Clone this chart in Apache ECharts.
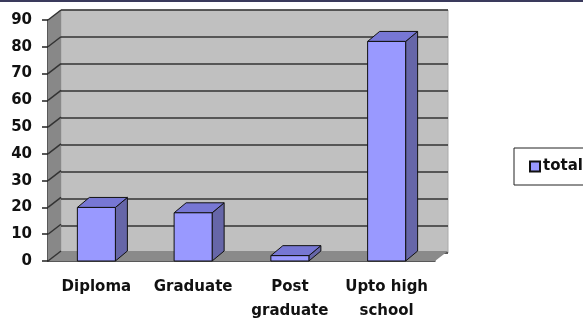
<!DOCTYPE html>
<html>
<head>
<meta charset="utf-8">
<style>
  html, body { margin: 0; padding: 0; background: #fff; }
  #chart { width: 583px; height: 323px; }
</style>
<script src="https://cdn.jsdelivr.net/npm/echarts@6/dist/echarts.min.js"></script>
</head>
<body>
<div id="chart"></div>
<script>
// 数据
const categories = ['Diploma', 'Graduate', 'Post\ngraduate', 'Upto high\nschool'];
const totalValues = [20, 18, 2, 82];
const yTicks = [0, 10, 20, 30, 40, 50, 60, 70, 80, 90];

// 3D 深度偏移
const depthX = 13;
const depthY = 10;
const barDepthX = 12;
const barDepthY = 10;

const labelFont = { fontFamily: 'DejaVu Sans', fontWeight: 'bold', fontSize: 15, color: '#111' };

// 侧墙、地板和斜线
function renderWalls(params, api) {
    const cs = params.coordSys;
    const left = cs.x;
    const right = cs.x + cs.width;
    const y0 = api.coord([0, yTicks[0]])[1];
    const yTop = api.coord([0, yTicks[yTicks.length - 1]])[1];
    const children = [
        {
            type: 'polygon',
            shape: { points: [[left, yTop], [left + depthX, yTop - depthY], [left + depthX, y0 - depthY], [left, y0]] },
            style: { fill: '#888888' }
        },
        {
            type: 'polygon',
            shape: { points: [[left, y0], [left + depthX, y0 - depthY], [right + depthX, y0 - depthY], [right, y0]] },
            style: { fill: '#8a8a8a' }
        }
    ];
    yTicks.forEach(v => {
        const y = api.coord([0, v])[1];
        children.push({
            type: 'line',
            shape: { x1: left, y1: y, x2: left + depthX, y2: y - depthY },
            style: { stroke: '#333', lineWidth: 1.5 }
        });
    });
    return { type: 'group', children: children };
}

// 立体柱子
function renderBar(params, api) {
    const top = api.coord([api.value(0), api.value(1)]);
    const base = api.coord([api.value(0), 0]);
    const w = api.size([1, 0])[0] * 0.393;
    const l = top[0] - w / 2;
    const r = top[0] + w / 2;
    const t = top[1];
    const b = base[1];
    const edge = { stroke: '#111', lineWidth: 1 };
    return {
        type: 'group',
        children: [
            {
                type: 'polygon',
                shape: { points: [[r, t], [r + barDepthX, t - barDepthY], [r + barDepthX, b - barDepthY], [r, b]] },
                style: Object.assign({ fill: '#6666a8' }, edge)
            },
            {
                type: 'polygon',
                shape: { points: [[l, t], [l + barDepthX, t - barDepthY], [r + barDepthX, t - barDepthY], [r, t]] },
                style: Object.assign({ fill: '#7777d4' }, edge)
            },
            {
                type: 'rect',
                shape: { x: l, y: t, width: w, height: b - t },
                style: Object.assign({ fill: '#9999ff' }, edge)
            }
        ]
    };
}

const chart = echarts.init(document.getElementById('chart'));

const option = {
    animation: false,
    backgroundColor: '#fff',
    graphic: [
        { type: 'rect', shape: { x: 0, y: 0, width: 583, height: 2 }, style: { fill: '#3a3a5c' } }
    ],
    legend: {
        left: 514,
        top: 148,
        orient: 'vertical',
        padding: [11, 15, 11, 15],
        borderColor: '#222',
        borderWidth: 1,
        itemWidth: 10,
        itemHeight: 10,
        icon: 'rect',
        data: ['total'],
        textStyle: { fontFamily: 'DejaVu Sans', fontWeight: 'bold', fontSize: 15, color: '#111', padding: [0, 0, 0, -2] }
    },
    grid: [
        { left: 48, right: 148, top: 20, bottom: 60 },
        { left: 48 + depthX, right: 148 - depthX, top: 20 - depthY, bottom: 60 + depthY,
          show: true, backgroundColor: '#c0c0c0', borderColor: '#aaa', borderWidth: 1 }
    ],
    xAxis: [
        {
            type: 'category',
            gridIndex: 0,
            data: categories,
            axisLine: { lineStyle: { color: '#222', width: 1.5 } },
            axisTick: { length: 7, lineStyle: { color: '#222', width: 1.5 } },
            axisLabel: Object.assign({ margin: 14, lineHeight: 24, interval: 0 }, labelFont)
        },
        {
            type: 'category',
            gridIndex: 1,
            data: categories,
            show: false
        }
    ],
    yAxis: [
        {
            type: 'value',
            gridIndex: 0,
            min: 0,
            max: 90,
            interval: 10,
            axisLine: { show: true, lineStyle: { color: '#222', width: 1.5 } },
            axisTick: { show: true, length: 6, lineStyle: { color: '#222', width: 1.5 } },
            axisLabel: Object.assign({ margin: 16 }, labelFont),
            splitLine: { show: false }
        },
        {
            type: 'value',
            gridIndex: 1,
            min: 0,
            max: 90,
            interval: 10,
            axisLine: { show: false },
            axisTick: { show: false },
            axisLabel: { show: false },
            splitLine: { show: true, lineStyle: { color: '#333', width: 1.5 } }
        }
    ],
    series: [
        {
            name: 'walls',
            type: 'custom',
            xAxisIndex: 0,
            yAxisIndex: 0,
            z: 1,
            silent: true,
            renderItem: renderWalls,
            data: [[0, 0]]
        },
        {
            name: 'total',
            type: 'custom',
            xAxisIndex: 0,
            yAxisIndex: 0,
            z: 3,
            itemStyle: { color: '#9999ff', borderColor: '#111', borderWidth: 1 },
            renderItem: renderBar,
            data: totalValues.map((v, i) => [i, v])
        }
    ]
};

chart.setOption(option);
</script>
</body>
</html>
